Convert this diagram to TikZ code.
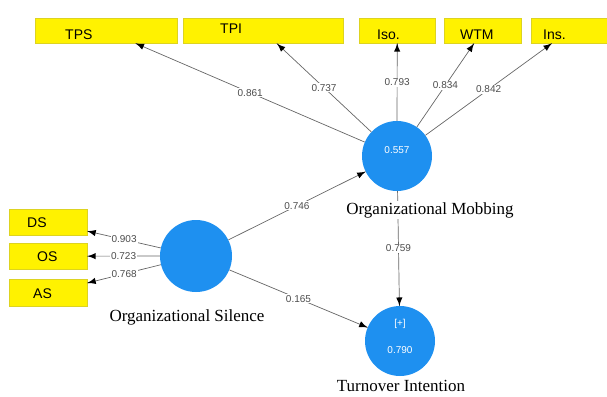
\documentclass[tikz,border=0pt]{standalone}
\usepackage{fontspec}
\setmainfont{Liberation Serif}
\setsansfont{Liberation Sans}
\usetikzlibrary{arrows,decorations.markings}
\definecolor{lvblue}{RGB}{30,144,240}

\begin{document}
\begin{tikzpicture}[x=1pt,y=-1pt,decoration={
			markings,
			mark=at position 1 with {\arrow[scale=1.7,black]{latex}};
		},
		ind/.style={fill=yellow,draw=yellow!85!black,line width=0.4pt,anchor=north west,align=left,inner ysep=0pt,font=\sffamily\fontsize{14}{14}\selectfont},
		lv/.style={circle,fill=lvblue,minimum size=70pt,inner sep=0pt,text=white,font=\sffamily\fontsize{10}{12}\selectfont},
		link/.style={color=black!60,line width=0.7pt,postaction={decorate}},
		coef/.style={midway,fill=white,inner sep=1pt,text=black!70,font=\sffamily\fontsize{10}{10}\selectfont},
		lvname/.style={fill=white,inner sep=1pt,font=\fontsize{17}{17}\selectfont}]
		\useasboundingbox (0,0) rectangle (607,396);
		% indicators
		\node[ind,minimum height=25pt,text height=20pt,text depth=3pt,text width=82pt,inner xsep=30pt] (tps) at (35,18) {TPS};
		\node[ind,minimum height=25pt,text height=14pt,text depth=9pt,text width=86pt,inner xsep=37pt] (tpi) at (183,18) {TPI};
		\node[ind,minimum height=25pt,text height=20pt,text depth=3pt,text width=40pt,inner xsep=18pt] (iso) at (359,18) {Iso.};
		\node[ind,minimum height=25pt,text height=20pt,text depth=3pt,text width=45pt,inner xsep=16pt] (wtm) at (444,18) {WTM};
		\node[ind,minimum height=25pt,text height=20pt,text depth=3pt,text width=52pt,inner xsep=12pt] (ins) at (531,18) {Ins.};
		\node[ind,minimum height=26pt,text height=17pt,text depth=7pt,text width=42pt,inner xsep=18pt] (ds) at (9,209) {DS};
		\node[ind,minimum height=26pt,text height=17pt,text depth=7pt,text width=22pt,inner xsep=28pt] (os) at (9,243) {OS};
		\node[ind,minimum height=27pt,text height=18pt,text depth=7pt,text width=30pt,inner xsep=24pt] (as) at (9,279) {AS};
		% latent variables
		\node[lv,text depth=12pt] (mob) at (397,156) {0.557};
		\node[lv,minimum size=72pt] (sil) at (196,256) {};
		\node[lv,align=center,text depth=10pt] (ti) at (400,341) {[+]\\[15pt]0.790};
		% loadings and paths
		\draw[link] (mob) -- node[coef]{0.861} (tps);
		\draw[link] (mob) -- node[coef]{0.737} (tpi);
		\draw[link] (mob) -- node[coef]{0.793} (iso);
		\draw[link] (mob) -- node[coef]{0.834} (wtm);
		\draw[link] (mob) -- node[coef]{0.842} (ins);
		\draw[link] (sil) -- node[coef]{0.903} (ds);
		\draw[link] (sil) -- node[coef]{0.723} (os);
		\draw[link] (sil) -- node[coef]{0.768} (as);
		\draw[link] (sil) -- node[coef]{0.746} (mob);
		\draw[link] (sil) -- node[coef]{0.165} (ti);
		\draw[link] (mob) -- node[coef]{0.759} (ti);
		% names
		\node[lvname] (silname) at (187,317) {Organizational Silence};
		\node[lvname] (mobname) at (430,210) {Organizational Mobbing};
		\node[lvname] (tiname) at (401,386) {Turnover Intention};
\end{tikzpicture}
\end{document}
